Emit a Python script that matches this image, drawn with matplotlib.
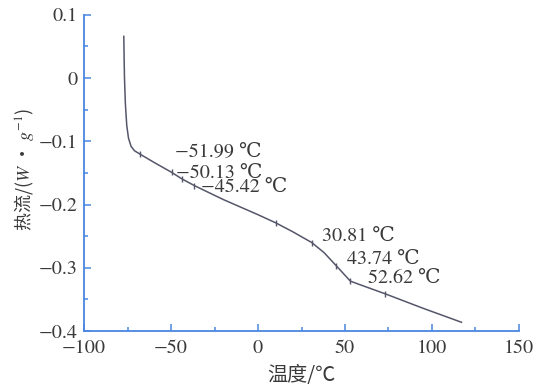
import matplotlib
matplotlib.use("Agg")
import matplotlib.pyplot as plt

plt.rcParams['font.family'] = ['STIXGeneral', 'Liberation Serif', 'DejaVu Serif', 'Noto Sans CJK SC']
plt.rcParams['mathtext.fontset'] = 'stix'

# curve
temp = [-77.2, -77.0, -76.8, -76.3, -75.5, -74.5, -73.0, -71.0, -68.0, -60.0,
        -49.7, -44.0, -36.6, -20.0, 0.0, 10.3, 20.0, 30.9, 38.0, 45.1, 53.1,
        60.0, 73.1, 95.0, 117.0]
flow = [0.066, 0.030, 0.000, -0.040, -0.075, -0.095, -0.108, -0.115, -0.120, -0.133,
        -0.149, -0.159, -0.170, -0.192, -0.216, -0.229, -0.243, -0.260, -0.276, -0.297, -0.321,
        -0.328, -0.341, -0.364, -0.386]

mark_t = [-68.0, -49.7, -44.0, -36.6, 10.3, 30.9, 45.1, 53.1, 73.1]
mark_f = [-0.120, -0.149, -0.159, -0.170, -0.229, -0.260, -0.297, -0.321, -0.341]

labels = ["−51.99 ℃", "−50.13 ℃", "−45.42 ℃", "30.81 ℃", "43.74 ℃", "52.62 ℃"]
label_pos = [(-48.0, -0.1175), (-46.9, -0.151), (-32.6, -0.1735),
             (36.6, -0.251), (50.9, -0.286), (63.4, -0.316)]

xticks = [-100, -50, 0, 50, 100, 150]
yticks = [-0.4, -0.3, -0.2, -0.1, 0, 0.1]
yticklabels = ["−0.4", "−0.3", "−0.2", "−0.1", "0", "0.1"]
xticklabels = ["−100", "−50", "0", "50", "100", "150"]

axis_col = "#4a86e0"
txt_col = "#3a3a3a"
line_col = "#55566a"

fig = plt.figure(figsize=(5.36, 3.90), dpi=100)
ax = fig.add_axes([0.157, 0.151, 0.811, 0.811])

ax.plot(temp, flow, color=line_col, lw=1.1)
ax.plot(mark_t, mark_f, linestyle='none', marker='|', ms=5, mew=1.0, color=line_col)

for s, (x, y) in zip(labels, label_pos):
    ax.text(x, y, s, fontsize=14.5, color=txt_col, ha='left', va='center')

ax.set_xlim(-100, 150)
ax.set_ylim(-0.4, 0.1)
ax.set_xticks(xticks)
ax.set_xticklabels(xticklabels)
ax.set_yticks(yticks)
ax.set_yticklabels(yticklabels)
ax.set_xticks([-75, -25, 25, 75, 125], minor=True)
ax.set_yticks([-0.35, -0.25, -0.15, -0.05, 0.05], minor=True)

for side in ['top', 'right']:
    ax.spines[side].set_visible(False)
for side in ['left', 'bottom']:
    ax.spines[side].set_color(axis_col)
    ax.spines[side].set_linewidth(1.3)

ax.tick_params(which='both', direction='in', color=axis_col, labelcolor=txt_col,
               labelsize=14.5, width=1.1)
ax.tick_params(which='major', length=5)
ax.tick_params(which='minor', length=3)
ax.tick_params(axis='x', pad=6)
ax.tick_params(axis='y', pad=5)

ax.set_xlabel("温度/℃", fontsize=14.5, color=txt_col,
              family=['Noto Sans CJK SC', 'DejaVu Sans'], labelpad=6)
ax.set_ylabel("热流/($W$ · $g^{-1}$)", fontsize=13, color=txt_col,
              family=['Noto Sans CJK SC', 'DejaVu Sans'])
ax.yaxis.set_label_coords(-0.11, 0.51)

fig.savefig("out.png", dpi=100)
